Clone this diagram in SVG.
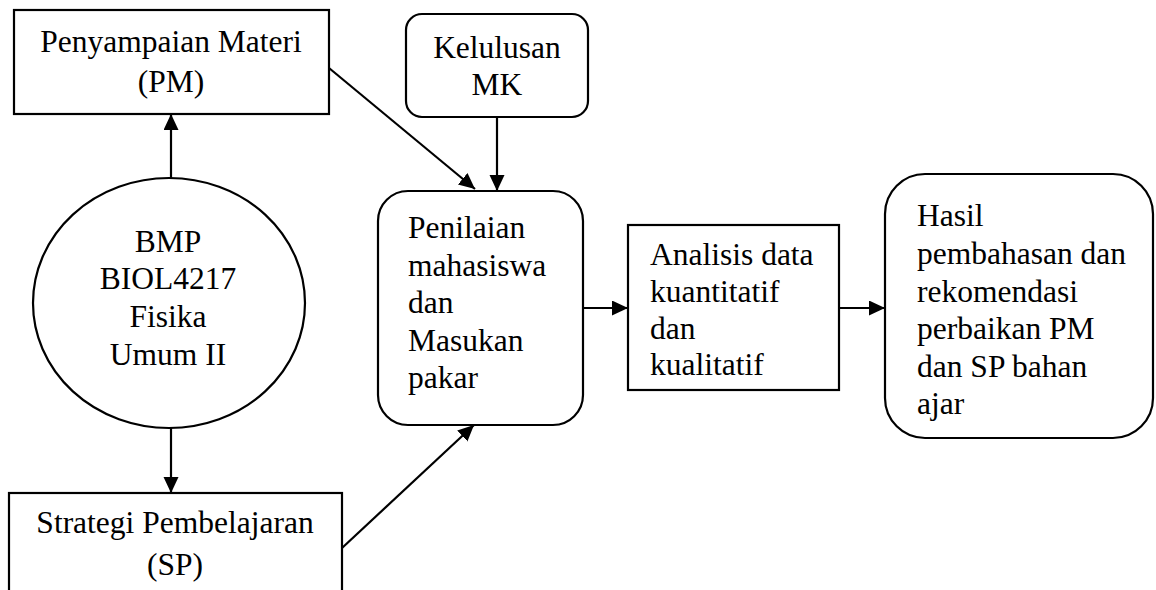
<svg xmlns="http://www.w3.org/2000/svg" width="1156" height="590" viewBox="0 0 1156 590">
<style>
.box{fill:#fff;stroke:#000;stroke-width:2.2}
.t{font-family:'Liberation Serif',serif;font-size:31.5px;fill:#000}
.c{text-anchor:middle}
.edge{stroke:#000;stroke-width:2.2;fill:none;marker-end:url(#arr)}
</style>
<defs>
<marker id="arr" markerUnits="userSpaceOnUse" markerWidth="18" markerHeight="16" refX="16" refY="7.5" orient="auto">
<path d="M0,0 L16,7.5 L0,15 z" fill="#000"/>
</marker>
</defs>
<rect width="1156" height="590" fill="#fff"/>
<g id="pm">
<rect class="box" x="14" y="10" width="315" height="104"/>
<text class="t c" x="171" y="52">Penyampaian Materi</text>
<text class="t c" x="171" y="92">(PM)</text>
</g>
<g id="kelulusan">
<rect class="box" x="406" y="14" width="182" height="103" rx="16"/>
<text class="t c" x="497" y="58">Kelulusan</text>
<text class="t c" x="497" y="95">MK</text>
</g>
<g id="bmp">
<ellipse class="box" cx="169" cy="303" rx="136" ry="125"/>
<text class="t c" x="168" y="252">BMP</text>
<text class="t c" x="168" y="289">BIOL4217</text>
<text class="t c" x="168" y="327">Fisika</text>
<text class="t c" x="168" y="365">Umum II</text>
</g>
<g id="penilaian">
<rect class="box" x="378" y="191" width="205" height="234" rx="30"/>
<text class="t" x="408" y="238">Penilaian</text>
<text class="t" x="408" y="276">mahasiswa</text>
<text class="t" x="408" y="313">dan</text>
<text class="t" x="408" y="351">Masukan</text>
<text class="t" x="408" y="388">pakar</text>
</g>
<g id="analisis">
<rect class="box" x="628" y="225" width="211" height="165"/>
<text class="t" x="650" y="265">Analisis data</text>
<text class="t" x="650" y="302">kuantitatif</text>
<text class="t" x="650" y="339">dan</text>
<text class="t" x="650" y="375">kualitatif</text>
</g>
<g id="hasil">
<rect class="box" x="885" y="174" width="268" height="264" rx="40"/>
<text class="t" x="917" y="226">Hasil</text>
<text class="t" x="917" y="264">pembahasan dan</text>
<text class="t" x="917" y="302">rekomendasi</text>
<text class="t" x="917" y="339">perbaikan PM</text>
<text class="t" x="917" y="377">dan SP bahan</text>
<text class="t" x="917" y="414">ajar</text>
</g>
<g id="sp">
<rect class="box" x="9" y="493" width="333" height="110"/>
<text class="t c" x="175" y="533">Strategi Pembelajaran</text>
<text class="t c" x="175" y="575">(SP)</text>
</g>
<g id="connectors">
<line class="edge" x1="171" y1="178" x2="171" y2="114"/>
<line class="edge" x1="171" y1="428" x2="171" y2="493"/>
<line class="edge" x1="329" y1="68" x2="475" y2="189"/>
<line class="edge" x1="497" y1="117" x2="497" y2="191"/>
<line class="edge" x1="342" y1="548" x2="474" y2="425"/>
<line class="edge" x1="583" y1="308" x2="628" y2="308"/>
<line class="edge" x1="839" y1="308" x2="885" y2="308"/>
</g>
</svg>
